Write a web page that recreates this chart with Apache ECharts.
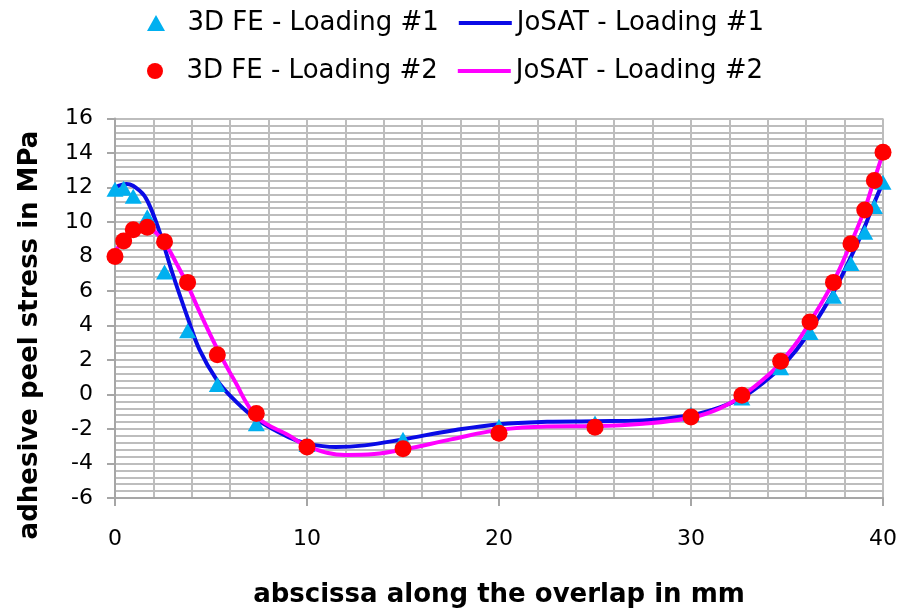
<!DOCTYPE html>
<html>
<head>
<meta charset="utf-8">
<script src="https://cdn.jsdelivr.net/npm/echarts@6/dist/echarts.min.js"></script>
<style>
html,body{margin:0;padding:0;background:#fff;}
#chart{width:901px;height:609px;}
</style>
</head>
<body>
<div id="chart"></div>
<script>
// ---- data ----
var feX = [0, 0.45, 0.95, 1.68, 2.58, 3.78, 5.33, 7.36, 10, 15, 20, 25, 30, 32.65, 34.67, 36.2, 37.42, 38.33, 39.05, 39.55, 40];
var fe1Y = [11.9, 11.95, 11.5, 10.3, 7.1, 3.7, 0.58, -1.7, -2.9, -2.6, -1.85, -1.65, -1.15, -0.2, 1.55, 3.6, 5.7, 7.6, 9.4, 10.9, 12.3];
var fe2Y = [8.0, 8.9, 9.55, 9.7, 8.85, 6.5, 2.3, -1.1, -3.05, -3.15, -2.25, -1.9, -1.3, -0.05, 1.93, 4.2, 6.5, 8.74, 10.7, 12.4, 14.05];

var josat1X = [0, 0.6, 1.3, 1.7, 2.3, 3.0, 3.8, 4.4, 5.3, 6.2, 7.4, 9.1, 10, 11.5, 13, 15, 17.5, 20, 22.5, 25, 27.5, 30, 31.5, 32.7, 34, 34.7, 35.5, 36.2, 37.4, 38.3, 39, 39.5, 40];
var josat1Y = [12.0, 12.2, 11.8, 11.2, 9.5, 7.0, 4.4, 2.6, 0.85, -0.3, -1.45, -2.5, -2.85, -3.05, -2.95, -2.6, -2.1, -1.72, -1.58, -1.55, -1.5, -1.2, -0.75, -0.15, 0.9, 1.6, 2.6, 3.7, 5.9, 7.9, 9.6, 11.0, 12.3];

var josat2X = [0, 0.5, 1.0, 1.7, 2.2, 2.7, 3.2, 3.8, 4.4, 5.3, 6.2, 7.4, 9.1, 10, 12, 13.5, 15, 17.5, 20, 22.5, 25, 27.5, 30, 31.5, 32.7, 34, 34.7, 35.5, 36.2, 37.4, 38.3, 39, 39.5, 40];
var josat2Y = [8.3, 9.0, 9.5, 9.7, 9.3, 8.6, 7.6, 6.3, 4.8, 2.7, 0.85, -1.3, -2.4, -3.0, -3.5, -3.45, -3.2, -2.6, -2.05, -1.85, -1.83, -1.7, -1.35, -0.8, -0.05, 1.1, 1.9, 3.0, 4.2, 6.5, 8.7, 10.6, 12.3, 14.0];

var seriesNames = ['3D FE - Loading #1', 'JoSAT - Loading #1', '3D FE - Loading #2', 'JoSAT - Loading #2'];
var xTitle = 'abscissa along the overlap in mm';
var yTitle = 'adhesive peel stress in MPa';

function pairs(xs, ys) { return xs.map(function (x, i) { return [x, ys[i]]; }); }

var gridColor = '#bdbdbd';
var axisFont = 'DejaVu Sans';
var lineIcon = 'path://M0,0 H53 V4 H0 Z';
var triIcon = 'path://M9,0 L18,16 L0,16 Z';

var legendCommon = {
  left: 142, itemWidth: 53, itemHeight: 16, itemGap: 20, symbolKeepAspect: true,
  textStyle: { fontFamily: 'DejaVu Sans', fontSize: 26, color: '#000' }
};

var chart = echarts.init(document.getElementById('chart'), null, { renderer: 'canvas' });
chart.setOption({
  animation: false,
  backgroundColor: '#ffffff',
  grid: { left: 115, right: 18, top: 118.5, bottom: 111, containLabel: false, outerBoundsMode: 'none' },
  legend: [
    Object.assign({}, legendCommon, {
      top: 5,
      data: [{ name: seriesNames[0], icon: triIcon }, { name: seriesNames[1], icon: lineIcon }]
    }),
    Object.assign({}, legendCommon, {
      top: 53,
      data: [{ name: seriesNames[2], icon: 'circle' }, { name: seriesNames[3], icon: lineIcon }]
    })
  ],
  xAxis: {
    type: 'value', min: 0, max: 40, interval: 10,
    name: xTitle, nameLocation: 'middle', nameGap: 84,
    nameTextStyle: { fontFamily: axisFont, fontWeight: 'bold', fontSize: 26, color: '#000' },
    axisLine: { show: true, onZero: false, lineStyle: { color: '#a6a6a6', width: 2 } },
    axisTick: { show: true, length: 8, lineStyle: { color: '#a6a6a6', width: 2 } },
    axisLabel: { fontFamily: axisFont, fontSize: 22, color: '#000', margin: 30 },
    splitLine: { show: true, lineStyle: { color: gridColor, width: 2 } },
    minorTick: { show: false, splitNumber: 5 },
    minorSplitLine: { show: true, lineStyle: { color: gridColor, width: 2 } }
  },
  yAxis: {
    type: 'value', min: -6, max: 16, interval: 2,
    axisLine: { show: true, onZero: false, lineStyle: { color: '#a6a6a6', width: 2 } },
    axisTick: { show: true, length: 8, lineStyle: { color: '#a6a6a6', width: 2 } },
    axisLabel: { fontFamily: axisFont, fontSize: 22, color: '#000', margin: 22 },
    splitLine: { show: true, lineStyle: { color: gridColor, width: 2 } },
    minorTick: { show: false, splitNumber: 5 },
    minorSplitLine: { show: true, lineStyle: { color: gridColor, width: 2 } }
  },
  graphic: [{
    type: 'text', x: 30, y: 335, rotation: Math.PI / 2,
    style: {
      text: yTitle, fill: '#000', align: 'center', verticalAlign: 'middle',
      font: 'bold 26px "DejaVu Sans"'
    }
  }],
  series: [
    {
      name: seriesNames[0], type: 'scatter', data: pairs(feX, fe1Y),
      symbol: 'triangle', symbolSize: [17, 15], z: 4,
      itemStyle: { color: '#00b0f0', opacity: 1 }
    },
    {
      name: seriesNames[1], type: 'line', data: pairs(josat1X, josat1Y),
      smooth: 0.4, symbol: 'none', showSymbol: false, z: 3,
      lineStyle: { color: '#0a0ae6', width: 4 }, itemStyle: { color: '#0a0ae6' }
    },
    {
      name: seriesNames[2], type: 'scatter', data: pairs(feX, fe2Y),
      symbol: 'circle', symbolSize: 17, z: 5,
      itemStyle: { color: '#ff0000', opacity: 1 }
    },
    {
      name: seriesNames[3], type: 'line', data: pairs(josat2X, josat2Y),
      smooth: 0.4, symbol: 'none', showSymbol: false, z: 3,
      lineStyle: { color: '#ff00ff', width: 4 }, itemStyle: { color: '#ff00ff' }
    }
  ]
});
</script>
</body>
</html>
